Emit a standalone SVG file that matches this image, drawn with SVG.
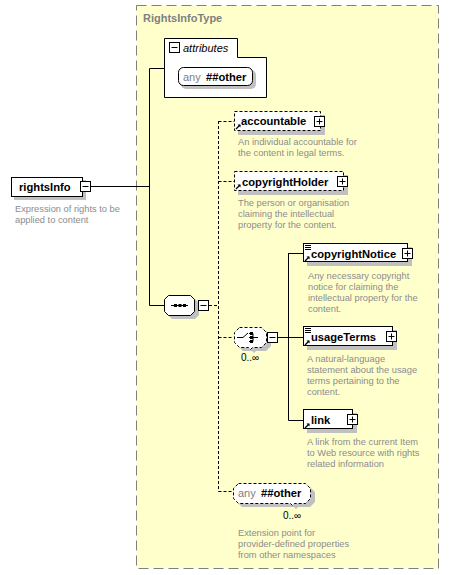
<svg xmlns="http://www.w3.org/2000/svg" width="450" height="575" viewBox="0 0 450 575">
<defs>
<style>
.name{font-family:"Liberation Sans",Arial,sans-serif;font-weight:bold;font-size:11.2px;fill:#000}
.desc{font-family:"Liberation Sans",Arial,sans-serif;font-size:9.3px;fill:#8c8c8c}
.card{font-family:"Liberation Sans",Arial,sans-serif;font-size:10px;fill:#000}
.box{fill:#fff;stroke:#000;stroke-width:1}
.dbox{fill:#fff;stroke:#000;stroke-width:1;stroke-dasharray:3,2}
.shadow{fill:#c0c0c0}
.btn{fill:#fff;stroke:#000;stroke-width:1}
.sign{stroke:#000;stroke-width:1;fill:none}
.line{stroke:#000;stroke-width:1;fill:none}
.dline{stroke:#000;stroke-width:1;fill:none;stroke-dasharray:3,2}
</style>
<g id="plus"><rect class="btn" x="0.5" y="0.5" width="10" height="10"/><path class="sign" d="M2.5,5.5H8.5M5.5,2.5V8.5"/></g>
<g id="minus"><rect class="btn" x="0.5" y="0.5" width="10" height="10"/><path class="sign" d="M2.5,5.5H8.5"/></g>
<g id="ref"><path d="M1,6 L5,2" stroke="#000" stroke-width="1.2"/><path d="M2.5,1.5 H5.5 V4.5 Z" fill="#000"/></g>
<g id="lines"><path d="M0,0.5H6M0,2.5H6M0,4.5H6" stroke="#000" stroke-width="1"/></g>
</defs>

<g id="RightsInfoType">
<rect x="136.5" y="5.5" width="302" height="563" fill="#ffffcc" stroke="#808080" stroke-width="1" stroke-dasharray="10,5"/>
<text x="143" y="22" font-family="Liberation Sans,Arial,sans-serif" font-size="11" font-weight="bold" fill="#808080">RightsInfoType</text>
</g>

<g id="connectors">
<path class="line" d="M91,186.5H149.5M149.5,68.5V305.5M149.5,68.5H164M149.5,305.5H164"/>
<path class="dline" d="M209,305.5H218.5M218.5,121V491.5M218.5,121.5H234M218.5,181.5H234M218.5,337.5H233M218.5,491.5H233"/>
<path class="line" d="M278,337.5H288.5M288.5,253V420.5M288.5,253.5H303M288.5,337.5H303M288.5,420.5H303"/>
</g>

<g id="rightsInfo">
<rect class="shadow" x="14" y="180" width="72" height="20"/>
<rect class="box" x="11.5" y="177.5" width="71" height="19"/>
<use href="#minus" x="80" y="181"/>
<text class="name" x="19" y="191">rightsInfo</text>
<text class="desc" x="15" y="212">Expression of rights to be</text>
<text class="desc" x="15" y="223">applied to content</text>
</g>

<g id="attributes">
<path d="M164.5,38.5H237.5V57.5H266.5V97.5H164.5Z" fill="#fff" stroke="#000"/>
<use href="#minus" x="169" y="42"/>
<text x="183" y="52" font-family="Liberation Sans,Arial,sans-serif" font-size="11" font-style="italic" fill="#000">attributes</text>
<rect class="shadow" x="181" y="70" width="75" height="19" rx="5"/>
<rect class="box" x="178.5" y="67.5" width="74" height="18" rx="5"/>
<text x="183" y="81" font-family="Liberation Sans,Arial,sans-serif" font-size="11" fill="#808080">any</text>
<text class="name" x="206" y="81">##other</text>
</g>

<g id="sequence">
<path class="shadow" d="M172,299H195L199,303V315L195,319H172L168,315V303Z"/>
<path class="box" d="M168.5,295.5H190.5L194.5,299.5V311.5L190.5,315.5H168.5L164.5,311.5V299.5Z"/>
<path d="M171,305.5H188" stroke="#000"/>
<rect x="174" y="304" width="3" height="3" fill="#000"/>
<rect x="178.5" y="304" width="3" height="3" fill="#000"/>
<rect x="183" y="304" width="3" height="3" fill="#000"/>
<use href="#minus" x="198" y="300"/>
</g>

<g id="accountable">
<rect class="shadow" x="238" y="115" width="87" height="20"/>
<rect class="dbox" x="234.5" y="111.5" width="86" height="19"/>
<use href="#ref" x="235" y="123"/>
<text class="name" x="241" y="125">accountable</text>
<use href="#plus" x="314" y="116"/>
<text class="desc" x="238" y="145">An individual accountable for</text>
<text class="desc" x="238" y="156">the content in legal terms.</text>
</g>

<g id="copyrightHolder">
<rect class="shadow" x="238" y="175" width="110" height="20"/>
<rect class="dbox" x="234.5" y="171.5" width="109" height="19"/>
<use href="#ref" x="235" y="183"/>
<text class="name" x="242" y="186">copyrightHolder</text>
<use href="#plus" x="337" y="176"/>
<text class="desc" x="238" y="206">The person or organisation</text>
<text class="desc" x="238" y="217">claiming the intellectual</text>
<text class="desc" x="238" y="228">property for the content.</text>
</g>

<g id="choice">
<path class="shadow" d="M243,331H266L271,336V346L266,351H256L254,353L252,351H243L238,346V336Z"/>
<path class="dbox" d="M239.5,327.5H261.5L266.5,332.5V342.5L261.5,347.5H252.5L250.5,349.5L248.5,347.5H239.5L234.5,342.5V332.5Z"/>
<path d="M237,337.5H243L248,333" stroke="#000" fill="none"/>
<path d="M249,333.5H253M249,337.5H253M249,341.5H253M253,333.5V341.5M253,337.5H258" stroke="#000" fill="none"/>
<rect x="250" y="332" width="3" height="3" fill="#000"/>
<rect x="250" y="336" width="3" height="3" fill="#000"/>
<rect x="250" y="340" width="3" height="3" fill="#000"/>
<use href="#minus" x="267" y="332"/>
<text class="card" x="241" y="361">0..∞</text>
</g>

<g id="copyrightNotice">
<rect class="shadow" x="307" y="247" width="105" height="19"/>
<rect class="box" x="303.5" y="243.5" width="104" height="18"/>
<use href="#lines" x="305" y="245"/>
<use href="#ref" x="304" y="255"/>
<text class="name" x="311" y="258">copyrightNotice</text>
<use href="#plus" x="402" y="248"/>
<text class="desc" x="308" y="279">Any necessary copyright</text>
<text class="desc" x="308" y="290">notice for claiming the</text>
<text class="desc" x="308" y="301">intellectual property for the</text>
<text class="desc" x="308" y="312">content.</text>
</g>

<g id="usageTerms">
<rect class="shadow" x="307" y="330" width="90" height="20"/>
<rect class="box" x="303.5" y="326.5" width="89" height="19"/>
<use href="#lines" x="305" y="328"/>
<use href="#ref" x="304" y="339"/>
<text class="name" x="311" y="341">usageTerms</text>
<use href="#plus" x="386" y="331"/>
<text class="desc" x="307" y="362">A natural-language</text>
<text class="desc" x="307" y="373">statement about the usage</text>
<text class="desc" x="307" y="384">terms pertaining to the</text>
<text class="desc" x="307" y="395">content.</text>
</g>

<g id="link">
<rect class="shadow" x="307" y="413" width="50" height="20"/>
<rect class="box" x="303.5" y="409.5" width="49" height="19"/>
<use href="#ref" x="304" y="422"/>
<text class="name" x="311" y="424">link</text>
<use href="#plus" x="347" y="414"/>
<text class="desc" x="307" y="445">A link from the current Item</text>
<text class="desc" x="307" y="456">to Web resource with rights</text>
<text class="desc" x="307" y="467">related information</text>
</g>

<g id="anyOther">
<path class="shadow" d="M242,487H310L315,492V502L310,507H298L296,509L294,507H242L237,502V492Z"/>
<path class="dbox" d="M238.5,483.5H305.5L310.5,488.5V498.5L305.5,503.5H294.5L292.5,505.5L290.5,503.5H238.5L233.5,498.5V488.5Z"/>
<text x="238" y="497" font-family="Liberation Sans,Arial,sans-serif" font-size="11" fill="#808080">any</text>
<text class="name" x="261" y="497">##other</text>
<text class="card" x="283" y="519">0..∞</text>
<text class="desc" x="238" y="536">Extension point for</text>
<text class="desc" x="238" y="547">provider-defined properties</text>
<text class="desc" x="238" y="558">from other namespaces</text>
</g>
</svg>
